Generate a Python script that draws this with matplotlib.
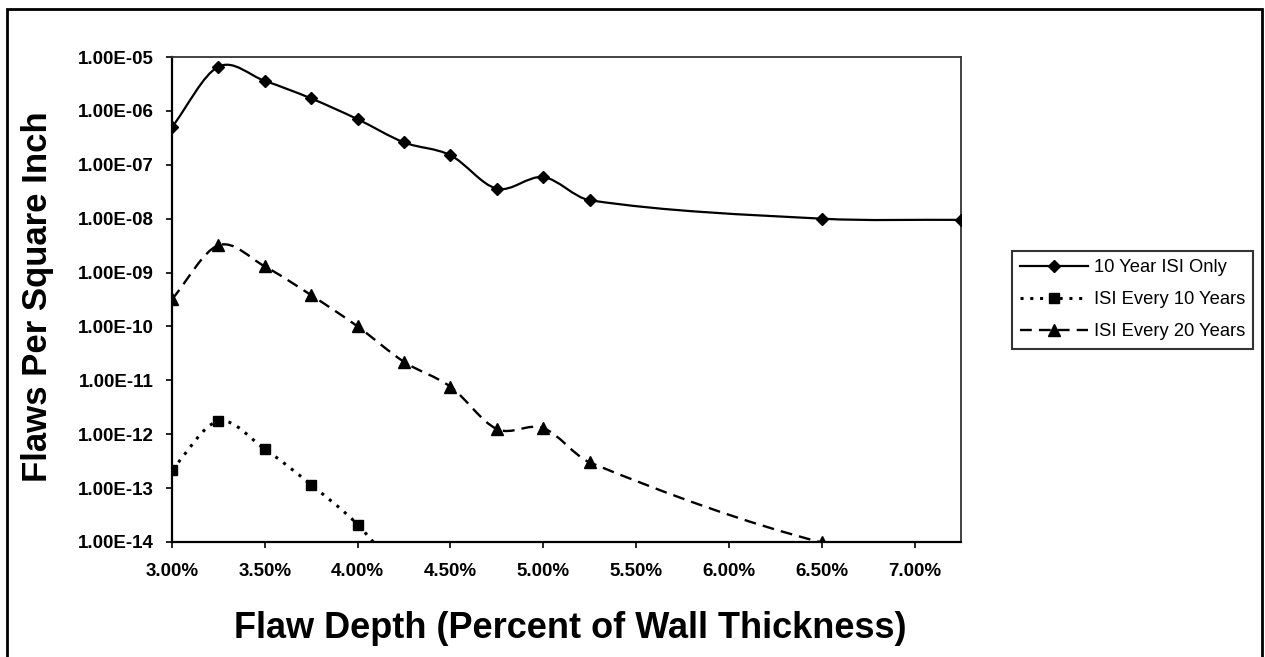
import numpy as np
import matplotlib
matplotlib.use("Agg")
import matplotlib.pyplot as plt
from matplotlib.path import Path
from matplotlib.patches import PathPatch, Rectangle
from matplotlib.lines import Line2D
from matplotlib.ticker import FixedLocator, FixedFormatter, NullLocator

plt.rcParams['font.family'] = ['Liberation Sans', 'DejaVu Sans']

# ---- data ----
depth_10yr = [3.00, 3.25, 3.50, 3.75, 4.00, 4.25, 4.50, 4.75, 5.00, 5.25, 6.50, 7.25]
flaws_10yr = [5.0e-7, 6.6e-6, 3.6e-6, 1.7e-6, 7.0e-7, 2.6e-7, 1.5e-7, 3.6e-8, 5.9e-8, 2.2e-8, 1.0e-8, 9.5e-9]

depth_every10 = [3.00, 3.25, 3.50, 3.75, 4.00, 4.25]
flaws_every10 = [2.2e-13, 1.75e-12, 5.3e-13, 1.15e-13, 2.1e-14, 2.0e-15]

depth_every20 = [3.00, 3.25, 3.50, 3.75, 4.00, 4.25, 4.50, 4.75, 5.00, 5.25, 6.50, 7.25]
flaws_every20 = [3.2e-10, 3.2e-9, 1.3e-9, 3.8e-10, 1.0e-10, 2.2e-11, 7.6e-12, 1.25e-12, 1.3e-12, 3.0e-13, 9.8e-15, 5.0e-15]

series_names = ["10 Year ISI Only", "ISI Every 10 Years", "ISI Every 20 Years"]

x_ticks = [3.0, 3.5, 4.0, 4.5, 5.0, 5.5, 6.0, 6.5, 7.0]
x_tick_labels = ["3.00%", "3.50%", "4.00%", "4.50%", "5.00%", "5.50%", "6.00%", "6.50%", "7.00%"]
y_ticks = [1e-14, 1e-13, 1e-12, 1e-11, 1e-10, 1e-9, 1e-8, 1e-7, 1e-6, 1e-5]
y_tick_labels = ["1.00E-14", "1.00E-13", "1.00E-12", "1.00E-11", "1.00E-10",
                 "1.00E-09", "1.00E-08", "1.00E-07", "1.00E-06", "1.00E-05"]

W, H = 1265, 657
fig = plt.figure(figsize=(W / 100, H / 100), dpi=100)
fig.patch.set_facecolor('white')
ax = fig.add_axes([172 / W, 1 - 542 / H, (961 - 172) / W, (542 - 57) / H])
ax.set_yscale('log')
ax.set_xlim(3.0, 7.25)
ax.set_ylim(1e-14, 1e-5)


def smooth_path(xs, ys):
    """Smoothed line as cubic Bezier segments in (x, log10 y) space."""
    X = np.asarray(xs, float)
    L = np.log10(ys)
    n = len(X)
    slopes = np.empty(n)
    for i in range(n):
        a = max(i - 1, 0)
        b = min(i + 1, n - 1)
        slopes[i] = (L[b] - L[a]) / (X[b] - X[a])
    verts = [(X[0], L[0])]
    codes = [Path.MOVETO]
    for i in range(n - 1):
        h = X[i + 1] - X[i]
        c1 = (X[i] + h / 3, L[i] + slopes[i] * h / 3)
        c2 = (X[i + 1] - h / 3, L[i + 1] - slopes[i + 1] * h / 3)
        verts += [c1, c2, (X[i + 1], L[i + 1])]
        codes += [Path.CURVE4] * 3
    V = np.array(verts)
    V[:, 1] = 10 ** V[:, 1]
    return Path(V, codes)


styles = [
    dict(ls='-', marker='D', ms=6.5, lw=1.6),
    dict(ls=(0, (1, 2.2)), marker='s', ms=6.5, lw=2.2),
    dict(ls=(0, (5, 3)), marker='^', ms=8.5, lw=1.7),
]
data = [(depth_10yr, flaws_10yr), (depth_every10, flaws_every10), (depth_every20, flaws_every20)]

handles = []
for (xs, ys), st, name in zip(data, styles, series_names):
    patch = PathPatch(smooth_path(xs, ys), fill=False, edgecolor='black',
                      linewidth=st['lw'], linestyle=st['ls'], capstyle='butt', zorder=3)
    ax.add_patch(patch)
    ax.plot(xs, ys, linestyle='none', marker=st['marker'], ms=st['ms'],
            color='black', zorder=4)
    handles.append(Line2D([], [], color='black', lw=st['lw'], linestyle=st['ls'],
                          marker=st['marker'], ms=st['ms']))

# axes styling
for s in ['left', 'bottom']:
    ax.spines[s].set_linewidth(1.6)
    ax.spines[s].set_color('black')
for s in ['top', 'right']:
    ax.spines[s].set_linewidth(1.3)
    ax.spines[s].set_linestyle((0, (1, 1)))
    ax.spines[s].set_color('#333333')

ax.xaxis.set_major_locator(FixedLocator(x_ticks))
ax.xaxis.set_major_formatter(FixedFormatter(x_tick_labels))
ax.yaxis.set_major_locator(FixedLocator(y_ticks))
ax.yaxis.set_major_formatter(FixedFormatter(y_tick_labels))
ax.yaxis.set_minor_locator(NullLocator())
ax.xaxis.set_minor_locator(NullLocator())
ax.tick_params(axis='both', direction='out', length=4, width=1.2, labelsize=13.5)
ax.tick_params(axis='x', pad=11)
ax.tick_params(axis='y', pad=9)
for lab in ax.get_xticklabels() + ax.get_yticklabels():
    lab.set_fontweight('bold')

# axis titles
fig.text(38 / W, 1 - 297 / H, "Flaws Per Square Inch", rotation=90,
         fontsize=25, fontweight='bold', ha='center', va='center')
fig.text(570 / W, 1 - 628 / H, "Flaw Depth (Percent of Wall Thickness)",
         fontsize=26, fontweight='bold', ha='center', va='center')

# legend
leg = fig.legend(handles, series_names, loc='upper left',
                 bbox_to_anchor=(1012 / W, 1 - 251 / H), bbox_transform=fig.transFigure,
                 frameon=True, fancybox=False, edgecolor='black', fontsize=13.2,
                 borderaxespad=0, handlelength=3.7, handletextpad=0.3,
                 labelspacing=0.82, borderpad=0.45)
leg.get_frame().set_linewidth(1.5)

# outer border of the chart area
fig.add_artist(Rectangle((7 / W, -0.2), (1262 - 7) / W, 1.2 - 9 / H,
                         transform=fig.transFigure, fill=False,
                         edgecolor='black', linewidth=2))

fig.savefig("out.png", dpi=100, facecolor='white')
